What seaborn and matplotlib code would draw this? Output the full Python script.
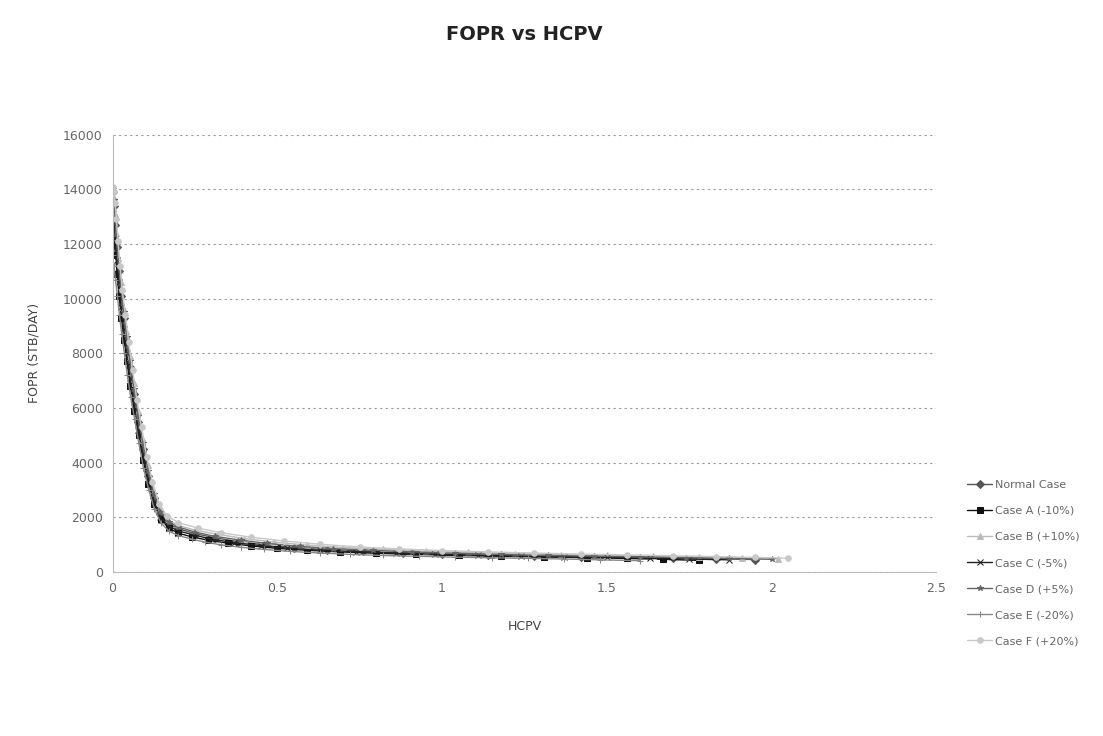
import matplotlib
matplotlib.use("Agg")
import matplotlib.pyplot as plt
import seaborn as sns
import pandas as pd

# HCPV / FOPR values, one pair of lists per case
hcpv_normal = [0.000, 0.004, 0.008, 0.013, 0.019, 0.026, 0.034, 0.043, 0.053, 0.065, 0.078, 0.092, 0.108, 0.125, 0.145, 0.17, 0.20, 0.25, 0.31, 0.38, 0.46, 0.55, 0.65, 0.76, 0.88, 1.00, 1.14, 1.28, 1.42, 1.56, 1.70, 1.83, 1.95]
fopr_normal = [13900, 13400, 12700, 11900, 11000, 10100, 9300, 8400, 7500, 6500, 5500, 4500, 3500, 2700, 2100, 1750, 1580, 1400, 1250, 1110, 990, 890, 810, 760, 700, 650, 610, 580, 560, 540, 510, 480, 450]

hcpv_a = [0.000, 0.004, 0.009, 0.014, 0.020, 0.027, 0.035, 0.044, 0.054, 0.066, 0.079, 0.093, 0.109, 0.126, 0.146, 0.17, 0.20, 0.24, 0.29, 0.35, 0.42, 0.50, 0.59, 0.69, 0.80, 0.92, 1.05, 1.18, 1.31, 1.44, 1.56, 1.67, 1.78]
fopr_a = [12600, 12200, 11600, 10900, 10100, 9300, 8500, 7700, 6800, 5900, 5000, 4100, 3200, 2500, 1950, 1600, 1420, 1280, 1160, 1050, 950, 860, 790, 730, 680, 640, 600, 570, 545, 520, 490, 460, 420]

hcpv_b = [0.000, 0.004, 0.008, 0.012, 0.018, 0.025, 0.033, 0.042, 0.052, 0.064, 0.077, 0.091, 0.107, 0.124, 0.144, 0.168, 0.20, 0.25, 0.32, 0.40, 0.49, 0.59, 0.70, 0.82, 0.95, 1.08, 1.22, 1.36, 1.50, 1.64, 1.78, 1.91, 2.02]
fopr_b = [14000, 13700, 13100, 12400, 11500, 10600, 9700, 8800, 7900, 6900, 5900, 4900, 3900, 3000, 2300, 1900, 1700, 1530, 1370, 1220, 1090, 980, 890, 820, 760, 710, 670, 630, 600, 570, 540, 510, 480]

hcpv_c = [0.000, 0.004, 0.008, 0.013, 0.019, 0.026, 0.034, 0.043, 0.053, 0.065, 0.078, 0.092, 0.108, 0.125, 0.145, 0.17, 0.20, 0.25, 0.30, 0.37, 0.45, 0.53, 0.63, 0.74, 0.86, 0.98, 1.11, 1.24, 1.37, 1.50, 1.63, 1.75, 1.87]
fopr_c = [13300, 12900, 12200, 11400, 10600, 9700, 8900, 8000, 7100, 6200, 5200, 4300, 3400, 2600, 2000, 1680, 1500, 1340, 1200, 1070, 960, 870, 790, 740, 690, 645, 605, 575, 550, 530, 500, 470, 440]

hcpv_d = [0.000, 0.004, 0.008, 0.013, 0.019, 0.026, 0.034, 0.043, 0.053, 0.065, 0.078, 0.092, 0.108, 0.125, 0.145, 0.17, 0.20, 0.25, 0.31, 0.39, 0.47, 0.57, 0.67, 0.79, 0.91, 1.04, 1.18, 1.32, 1.46, 1.60, 1.74, 1.87, 2.00]
fopr_d = [14000, 13600, 12900, 12100, 11200, 10300, 9500, 8600, 7700, 6700, 5700, 4700, 3700, 2850, 2200, 1820, 1640, 1460, 1300, 1160, 1040, 930, 850, 790, 730, 680, 640, 600, 575, 550, 520, 490, 460]

hcpv_e = [0.000, 0.004, 0.009, 0.015, 0.021, 0.028, 0.036, 0.045, 0.055, 0.067, 0.080, 0.094, 0.110, 0.127, 0.147, 0.17, 0.20, 0.24, 0.28, 0.33, 0.39, 0.46, 0.54, 0.63, 0.72, 0.82, 0.93, 1.04, 1.15, 1.26, 1.37, 1.48, 1.60]
fopr_e = [11600, 11200, 10700, 10100, 9400, 8700, 8000, 7200, 6400, 5600, 4700, 3800, 3000, 2300, 1800, 1500, 1330, 1200, 1090, 990, 900, 820, 750, 690, 640, 600, 570, 540, 515, 495, 470, 440, 410]

hcpv_f = [0.000, 0.004, 0.008, 0.012, 0.017, 0.023, 0.030, 0.039, 0.049, 0.061, 0.074, 0.088, 0.104, 0.121, 0.141, 0.165, 0.20, 0.26, 0.33, 0.42, 0.52, 0.63, 0.75, 0.87, 1.00, 1.14, 1.28, 1.42, 1.56, 1.70, 1.83, 1.95, 2.05]
fopr_f = [14100, 13900, 13500, 12900, 12100, 11200, 10300, 9400, 8400, 7400, 6300, 5300, 4200, 3300, 2500, 2050, 1800, 1600, 1430, 1270, 1130, 1010, 910, 840, 780, 730, 690, 650, 620, 590, 560, 530, 500]

cases = ["Normal Case", "Case A (-10%)", "Case B (+10%)", "Case C (-5%)",
         "Case D (+5%)", "Case E (-20%)", "Case F (+20%)"]
hcpv = [hcpv_normal, hcpv_a, hcpv_b, hcpv_c, hcpv_d, hcpv_e, hcpv_f]
fopr = [fopr_normal, fopr_a, fopr_b, fopr_c, fopr_d, fopr_e, fopr_f]

colors = ["#555555", "#111111", "#bbbbbb", "#222222", "#666666", "#888888", "#c8c8c8"]
markers = ["D", "s", "^", "x", "*", "+", "o"]

sns.set_style("white")

fig, ax = plt.subplots(figsize=(11.03, 7.36), dpi=100)
fig.subplots_adjust(left=0.102, right=0.849, top=0.817, bottom=0.223)

for name, x, y, c, m in zip(cases, hcpv, fopr, colors, markers):
    df = pd.DataFrame({"HCPV": x, "FOPR": y})
    sns.lineplot(data=df, x="HCPV", y="FOPR", ax=ax, color=c, marker=m,
                 markersize=4, linewidth=1, label=name, sort=False,
                 markeredgecolor=c)

ax.set_xlim(0, 2.5)
ax.set_ylim(0, 16000)
ax.set_xticks([0, 0.5, 1, 1.5, 2, 2.5])
ax.set_xticklabels(["0", "0.5", "1", "1.5", "2", "2.5"])
ax.set_yticks(range(0, 16001, 2000))
ax.yaxis.grid(True, color="#999999", linestyle=(0, (2, 3)), linewidth=0.8)
ax.tick_params(labelsize=9, colors="#666666")
for s in ["top", "right"]:
    ax.spines[s].set_visible(False)
for s in ["left", "bottom"]:
    ax.spines[s].set_color("#bbbbbb")

ax.set_title("FOPR vs HCPV", fontsize=14, fontweight="bold", pad=68, color="#222222")
ax.set_xlabel("HCPV", fontsize=9, color="#444444", labelpad=18)
ax.set_ylabel("FOPR (STB/DAY)", fontsize=9, color="#444444", labelpad=16)

ax.get_legend().remove()
handles, labels = ax.get_legend_handles_labels()
fig.legend(handles, labels, loc="center left", bbox_to_anchor=(0.868, 0.235),
           frameon=False, fontsize=8, labelcolor="#666666", labelspacing=1.45,
           handlelength=2.2, handletextpad=0.3)

plt.savefig("out.png", dpi=100)
